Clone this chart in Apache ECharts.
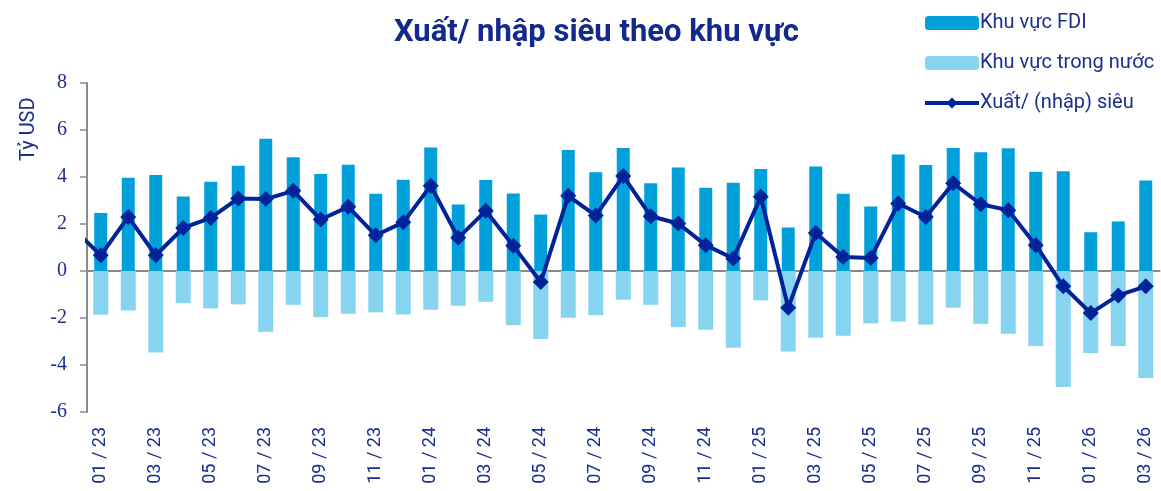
<!DOCTYPE html>
<html>
<head>
<meta charset="utf-8">
<script src="https://cdn.jsdelivr.net/npm/echarts@6/dist/echarts.min.js"></script>
<style>
  html, body { margin: 0; padding: 0; background: #fff; }
  #chart { width: 1161px; height: 491px; }
</style>
</head>
<body>
<div id="chart"></div>
<script>
const months = [
  '01 / 23', '02 / 23', '03 / 23', '04 / 23', '05 / 23', '06 / 23', '07 / 23', '08 / 23', '09 / 23', '10 / 23', '11 / 23', '12 / 23',
  '01 / 24', '02 / 24', '03 / 24', '04 / 24', '05 / 24', '06 / 24', '07 / 24', '08 / 24', '09 / 24', '10 / 24', '11 / 24', '12 / 24',
  '01 / 25', '02 / 25', '03 / 25', '04 / 25', '05 / 25', '06 / 25', '07 / 25', '08 / 25', '09 / 25', '10 / 25', '11 / 25', '12 / 25',
  '01 / 26', '02 / 26', '03 / 26'
]
const fdi = [
  2.47, 3.97, 4.08, 3.17, 3.8, 4.48, 5.63, 4.84, 4.13, 4.52, 3.29, 3.88,
  5.26, 2.83, 3.87, 3.3, 2.4, 5.15, 4.2, 5.23, 3.73, 4.4, 3.54, 3.76,
  4.34, 1.85, 4.45, 3.29, 2.75, 4.96, 4.51, 5.23, 5.05, 5.22, 4.22, 4.25,
  1.65, 2.11, 3.85
]
const domestic = [
  -1.86, -1.68, -3.47, -1.37, -1.59, -1.42, -2.59, -1.44, -1.96, -1.82, -1.76, -1.85,
  -1.65, -1.48, -1.31, -2.3, -2.89, -1.99, -1.88, -1.22, -1.44, -2.39, -2.5, -3.27,
  -1.25, -3.43, -2.84, -2.75, -2.23, -2.15, -2.28, -1.56, -2.25, -2.67, -3.19, -4.94,
  -3.49, -3.19, -4.55
]
const balance = [
  0.67, 2.3, 0.67, 1.83, 2.26, 3.09, 3.06, 3.41, 2.19, 2.73, 1.52, 2.07,
  3.63, 1.41, 2.56, 1.07, -0.47, 3.2, 2.36, 4.04, 2.33, 2.02, 1.1, 0.53,
  3.16, -1.56, 1.62, 0.6, 0.55, 2.87, 2.3, 3.73, 2.84, 2.59, 1.1, -0.65,
  -1.79, -1.04, -0.65
]
// 12/22, nam ngoai truc, chi thay doan noi vao 01/23
const balancePrev = 1.8

const navy = '#1a2f8f'
const linePoints = [[-1, balancePrev]].concat(balance.map((v, i) => [i, v]))

const chart = echarts.init(document.getElementById('chart'))
const option = {
  animation: false,
  title: {
    text: 'Xuất/ nhập siêu theo khu vực',
    left: 389,
    top: 13,
    textStyle: { fontFamily: 'Roboto', fontWeight: 'bold', fontSize: 31, color: '#14298c' }
  },
  legend: {
    orient: 'vertical',
    left: 918,
    top: 8,
    itemWidth: 54,
    itemHeight: 14,
    itemGap: 20,
    lineStyle: { width: 4 },
    textStyle: { fontFamily: 'Roboto', fontSize: 20, color: navy, padding: [0, 0, 0, -4] },
    data: ['Khu vực FDI', 'Khu vực trong nước', 'Xuất/ (nhập) siêu']
  },
  grid: { left: 87, right: 1.5, top: 83, bottom: 79, outerBoundsMode: 'none', containLabel: false },
  xAxis: [
    {
      type: 'category',
      data: months,
      position: 'bottom',
      axisLine: { show: false, onZero: false },
      axisTick: { show: false },
      axisLabel: {
        interval: 1,
        rotate: 90,
        margin: 15,
        fontFamily: 'Roboto',
        fontSize: 18,
        color: navy
      }
    },
    {
      type: 'category',
      data: months,
      position: 'bottom',
      axisLine: { onZero: true, lineStyle: { color: '#8a8a8a', width: 2 } },
      axisTick: { interval: 1, length: 6, lineStyle: { color: '#8a8a8a', width: 1.5 } },
      axisLabel: { show: false }
    },
    {
      type: 'value',
      min: -0.5,
      max: 38.5,
      show: false
    }
  ],
  yAxis: {
    type: 'value',
    min: -6,
    max: 8,
    interval: 2,
    axisLine: { show: true, onZero: false, lineStyle: { color: '#8a8a8a', width: 2 } },
    axisTick: { show: true, length: 7, lineStyle: { color: '#8a8a8a', width: 1.5 } },
    splitLine: { show: false },
    axisLabel: { margin: 20, fontFamily: 'Liberation Serif', fontSize: 20, color: navy }
  },
  graphic: [
    {
      type: 'text',
      x: 19,
      y: 161,
      rotation: Math.PI / 2,
      style: { text: 'Tỷ USD', fontFamily: 'Roboto', fontSize: 20, fill: navy }
    }
  ],
  series: [
    {
      name: 'Khu vực FDI',
      type: 'bar',
      xAxisIndex: 0,
      barWidth: 13,
      itemStyle: { color: '#00a0da' },
      data: fdi
    },
    {
      name: 'Khu vực trong nước',
      type: 'bar',
      xAxisIndex: 1,
      barWidth: 15,
      itemStyle: { color: '#87d4f1' },
      data: domestic
    },
    {
      name: 'Xuất/ (nhập) siêu',
      type: 'line',
      xAxisIndex: 2,
      clip: true,
      symbol: 'diamond',
      symbolSize: 16,
      lineStyle: { color: '#00239a', width: 4 },
      itemStyle: { color: '#00239a' },
      data: linePoints
    }
  ]
}
chart.setOption(option)
</script>
</body>
</html>
